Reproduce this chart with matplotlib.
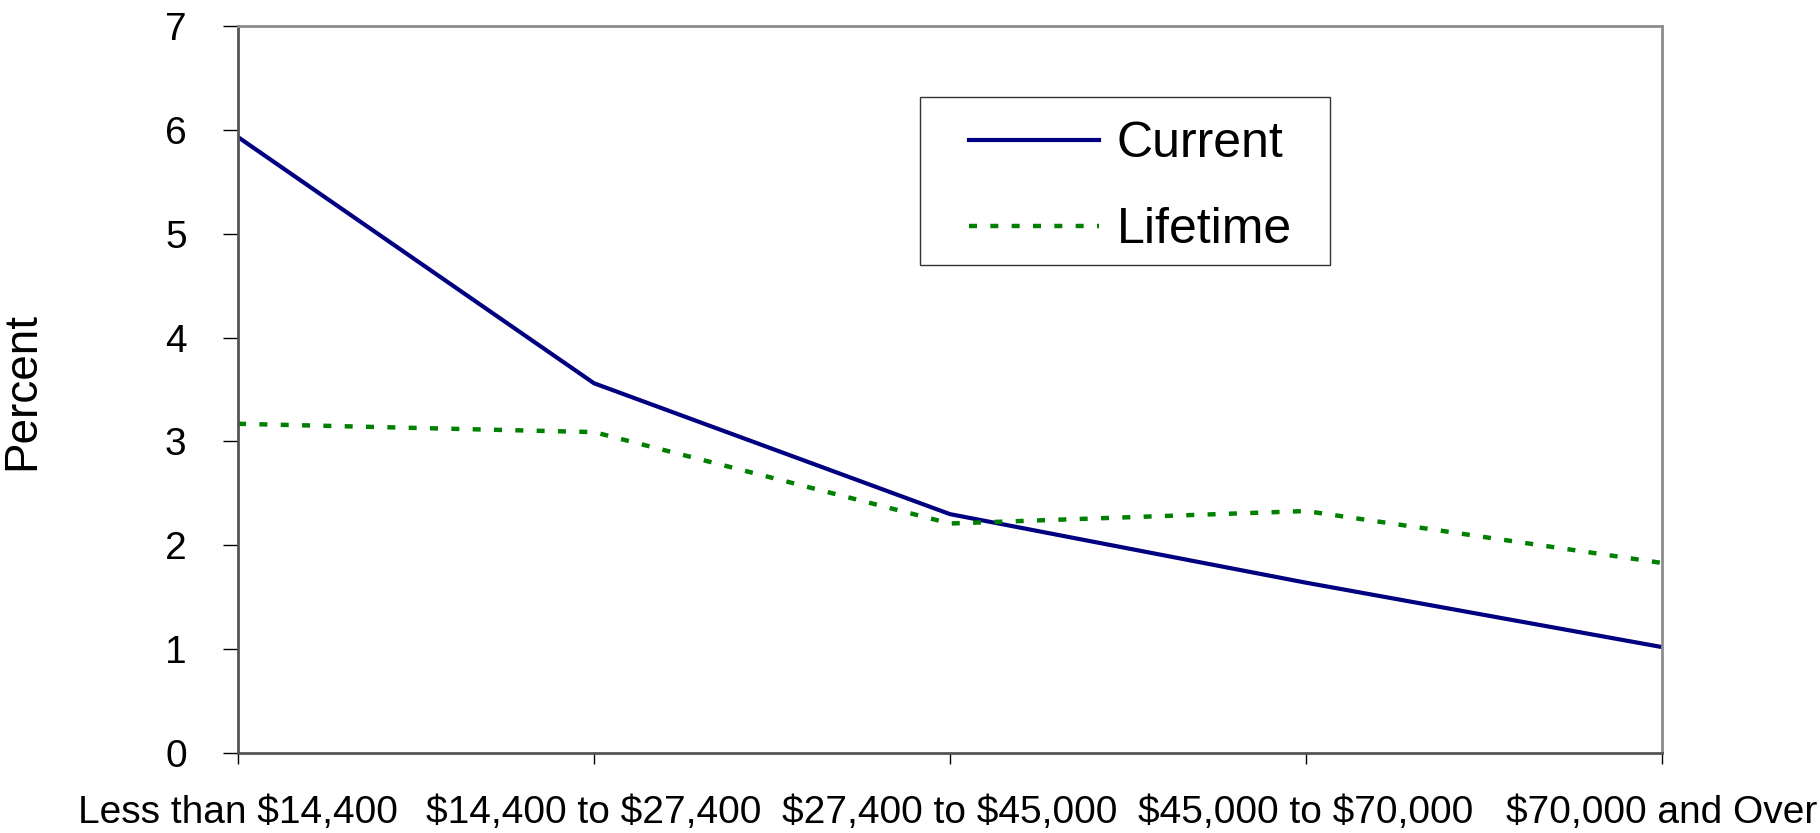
import matplotlib.pyplot as plt
from matplotlib.patches import Rectangle

plt.rcParams['font.family'] = ['Liberation Sans', 'DejaVu Sans']

# income groups and rates (percent)
groups = ['Less than \\$14,400', '\\$14,400 to \\$27,400', '\\$27,400 to \\$45,000',
          '\\$45,000 to \\$70,000', '\\$70,000 and Over']
current = [5.93, 3.56, 2.30, 1.64, 1.02]
lifetime = [3.17, 3.09, 2.21, 2.33, 1.83]

fig = plt.figure(figsize=(18.2, 8.33), dpi=100)
ax = fig.add_axes([0.1308, 0.096, 0.7824, 0.8728])

x = range(len(groups))
ax.plot(x, current, color='#000080', lw=3, label='Current')
ax.plot(x, lifetime, color='#008000', lw=3.2, linestyle=(0, (1.8, 3.0)),
        label='Lifetime')

ax.set_xlim(0, len(groups) - 1)
ax.set_ylim(0, 7)
ax.set_yticks(range(8))
ax.set_xticks(list(x))
ax.set_xticklabels(groups, fontsize=28)
ax.tick_params(axis='y', labelsize=28, length=11, width=1, direction='out', pad=26)
ax.tick_params(axis='x', length=8, width=1, direction='out', pad=22)
fig.text(0.012, 0.531, 'Percent', rotation=90, ha='center', va='center', fontsize=33)

for s in ['top', 'right']:
    ax.spines[s].set_color('#8c8c8c')
    ax.spines[s].set_linewidth(2)
for s in ['left', 'bottom']:
    ax.spines[s].set_color('#555555')
    ax.spines[s].set_linewidth(2)

# legend box drawn separately so the padding can differ per side
ax.add_patch(Rectangle((0.479, 0.671), 0.288, 0.231, transform=ax.transAxes,
                       facecolor='white', edgecolor='#333333', lw=1, zorder=4))
leg = ax.legend(loc='upper left', bbox_to_anchor=(0.513, 0.869), fontsize=36,
                handlelength=2.6, handletextpad=0.36, labelspacing=0.8,
                borderpad=0, borderaxespad=0, frameon=False)
leg.set_zorder(5)

fig.savefig('out.png', dpi=100)
